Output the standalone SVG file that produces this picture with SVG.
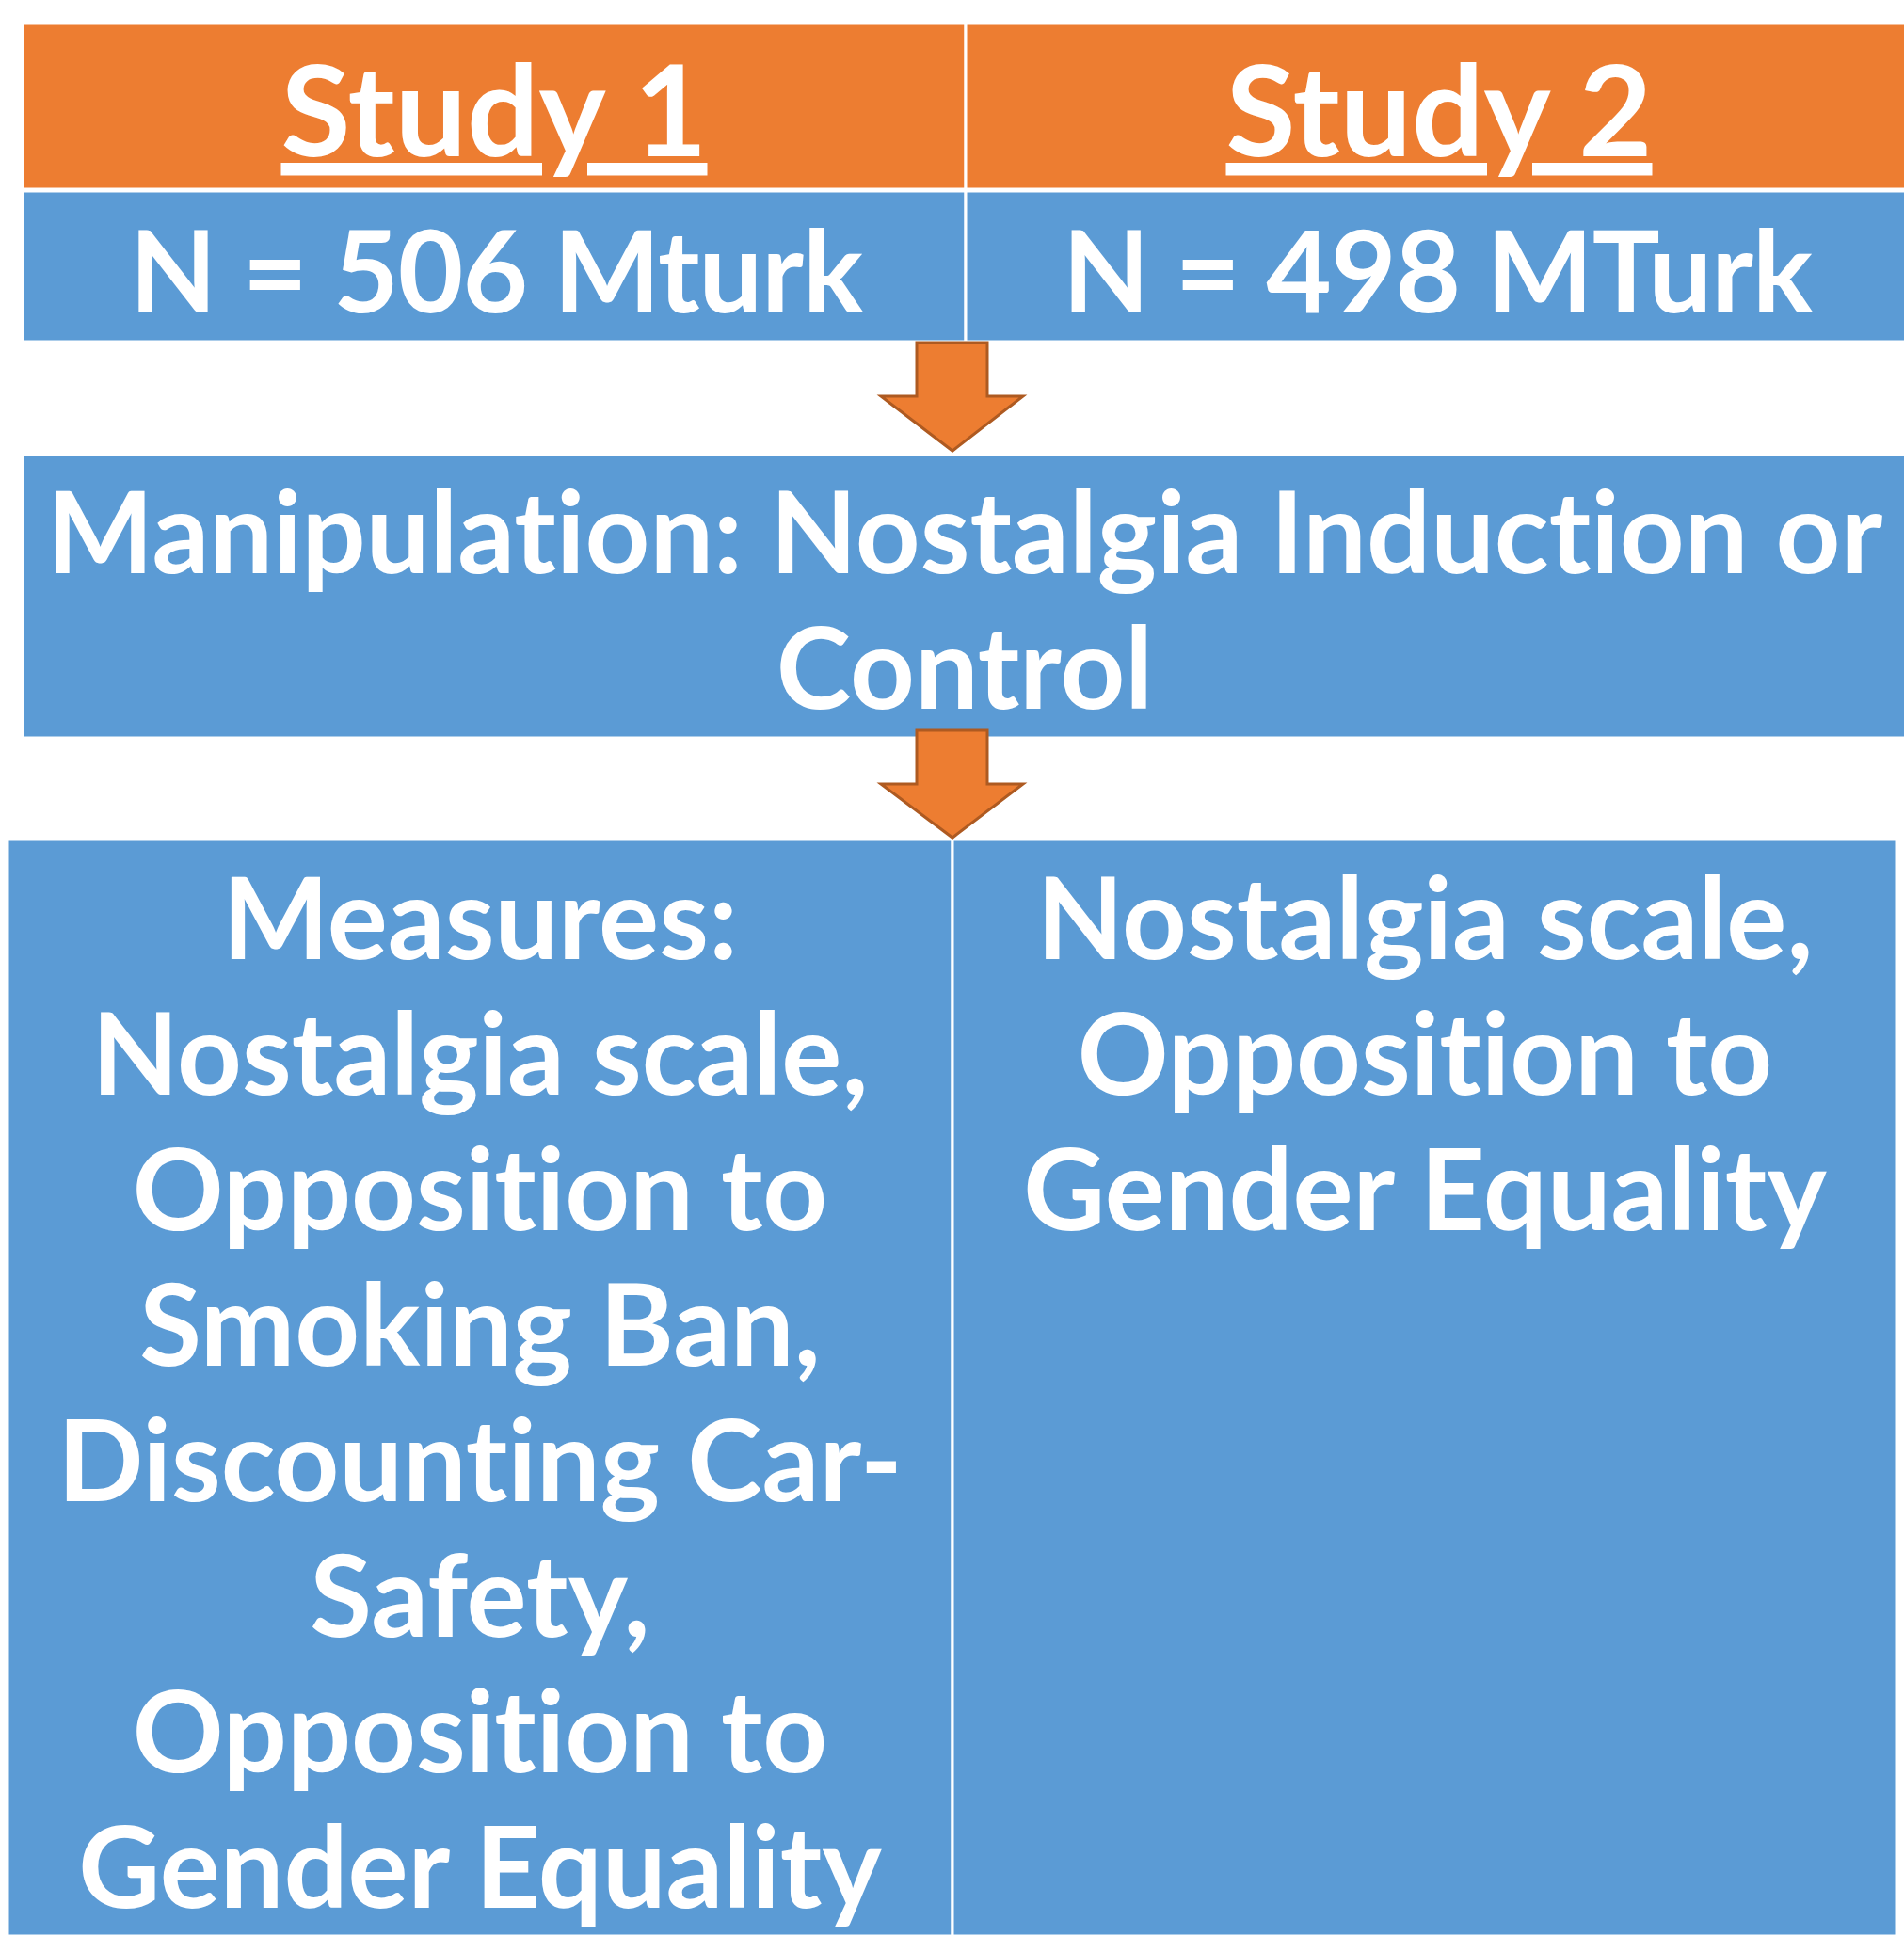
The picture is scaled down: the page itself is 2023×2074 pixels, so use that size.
<svg xmlns="http://www.w3.org/2000/svg" width="2023" height="2074" viewBox="0 0 2023 2074">
<style>
.orange{fill:#ED7D31;stroke:#FFFFFF;stroke-width:3}
.blue{fill:#5B9BD5;stroke:#FFFFFF;stroke-width:3}
.arrow{fill:#ED7D31;stroke:#AE5A21;stroke-width:3;stroke-linejoin:miter}
text{font-family:Lato,"Liberation Sans",sans-serif;font-weight:bold;fill:#FFFFFF;text-anchor:middle;font-variant-ligatures:none;font-feature-settings:"liga" 0,"clig" 0}
.t137{font-size:135px}
.t120{font-size:120px}
.tight{letter-spacing:-1px}
</style>
<rect width="2023" height="2074" fill="#FFFFFF"/>
<g id="study1-header">
<rect class="orange" x="24" y="25" width="1002" height="176"/>
<text class="t137" x="525" y="166" text-decoration="underline">Study 1</text>
</g>
<g id="study2-header">
<rect class="orange" x="1026" y="25" width="1000" height="176"/>
<text class="t137" x="1529" y="166" text-decoration="underline">Study 2</text>
</g>
<g id="study1-n">
<rect class="blue" x="24" y="203" width="1002" height="160"/>
<text class="t120 tight" x="527" y="332">N = 506 Mturk</text>
</g>
<g id="study2-n">
<rect class="blue" x="1026" y="203" width="1000" height="160"/>
<text class="t120 tight" x="1527" y="332">N = 498 MTurk</text>
</g>
<g id="manipulation">
<rect class="blue" x="24" y="483" width="2002" height="301"/>
<text class="t120" x="1025" y="609">Manipulation: Nostalgia Induction or</text>
<text class="t120" x="1025" y="753">Control</text>
</g>
<g id="measures-study1">
<rect class="blue" x="8" y="892" width="1004" height="1165"/>
<text class="t120" x="510" y="1019">Measures:</text>
<text class="t120" x="510" y="1163">Nostalgia scale,</text>
<text class="t120" x="510" y="1307">Opposition to</text>
<text class="t120" x="510" y="1451">Smoking Ban,</text>
<text class="t120" x="510" y="1595">Discounting Car-</text>
<text class="t120" x="510" y="1739">Safety,</text>
<text class="t120" x="510" y="1883">Opposition to</text>
<text class="t120" x="510" y="2027">Gender Equality</text>
</g>
<g id="measures-study2">
<rect class="blue" x="1012" y="892" width="1003" height="1165"/>
<text class="t120" x="1514" y="1019">Nostalgia scale,</text>
<text class="t120" x="1514" y="1163">Opposition to</text>
<text class="t120" x="1514" y="1307">Gender Equality</text>
</g>
<g id="connectors">
<polygon class="arrow" points="974,364 1049,364 1049,421 1087,421 1012,479 936,421 974,421"/>
<polygon class="arrow" points="974,776 1049,776 1049,833 1087,833 1012,890 936,833 974,833"/>
</g>
</svg>
